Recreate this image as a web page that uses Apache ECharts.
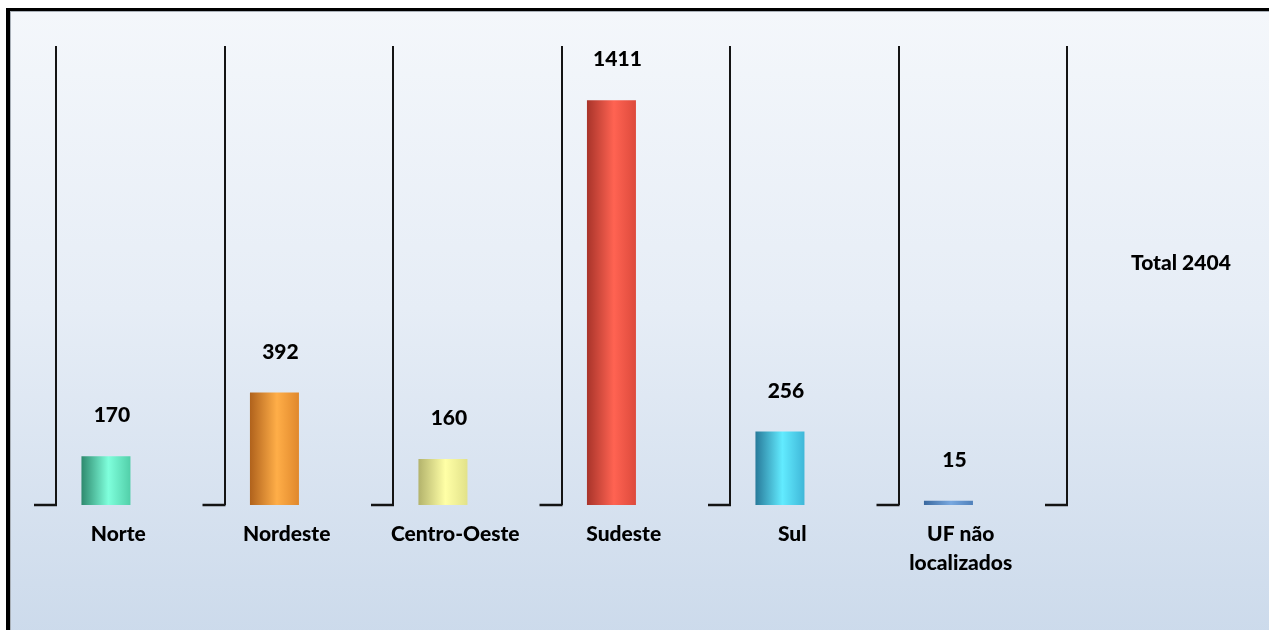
<!DOCTYPE html>
<html>
<head>
<meta charset="utf-8">
<script src="https://cdn.jsdelivr.net/npm/echarts@6/dist/echarts.min.js"></script>
<style>
  html, body { margin: 0; padding: 0; width: 1269px; height: 630px; overflow: hidden; }
  .frame {
    position: absolute;
    left: 6px; top: 8px;
    width: 1300px; height: 660px;
    border-left: 4px solid #000;
    border-top: 3px solid #000;
    box-shadow: inset 1px 1px 0 #a9b0b8;
    background: linear-gradient(to bottom, #f4f7fb 0%, #e6edf6 45%, #c9d8ea 100%);
  }
  #chart { position: absolute; left: 0; top: 0; width: 1269px; height: 630px; }
</style>
</head>
<body>
<div class="frame"></div>
<div id="chart"></div>
<script>
// regiões e totais
const categories = ['Norte', 'Nordeste', 'Centro-Oeste', 'Sudeste', 'Sul', 'UF não\nlocalizados'];
const values = [170, 392, 160, 1411, 256, 15];
const yMax = 1600;

// cores das barras: borda escura, centro claro, borda direita
const barColors = [
  ['#2e8a6e', '#7fffdc', '#52cfa9'],
  ['#b0621c', '#ffae48', '#e0882c'],
  ['#b3b36c', '#ffffa6', '#e2e28a'],
  ['#a8342a', '#ff6352', '#dd4a3c'],
  ['#287a9a', '#62ebff', '#3fb7d8'],
  ['#3a689e', '#78a8e0', '#4f80ba']
];

const total = values.reduce((a, b) => a + b, 0);
const font = 'Lato';

const chart = echarts.init(document.getElementById('chart'));

const option = {
  backgroundColor: 'transparent',
  animation: false,
  title: {
    text: 'Total ' + total,
    left: 1131,
    top: 253,
    padding: 0,
    textStyle: { fontFamily: font, fontWeight: 900, fontSize: 21, color: '#000' }
  },
  grid: { left: 56, right: 202, top: 46, bottom: 125 },
  xAxis: {
    type: 'category',
    data: categories,
    axisLine: { show: false },
    axisTick: { show: false },
    splitLine: {
      show: true,
      lineStyle: { color: '#141414', width: 2 }
    },
    axisLabel: {
      color: '#000',
      fontFamily: font,
      fontWeight: 900,
      fontSize: 21,
      lineHeight: 29,
      margin: 15,
      padding: [0, 44, 0, 0]
    }
  },
  yAxis: {
    type: 'value',
    min: 0,
    max: yMax,
    show: false,
    splitLine: { show: false }
  },
  series: [
    {
      type: 'bar',
      barWidth: 49,
      barGap: '40%',
      data: values.map((v, i) => ({
        value: v,
        itemStyle: {
          color: new echarts.graphic.LinearGradient(0, 0, 1, 0, [
            { offset: 0, color: barColors[i][0] },
            { offset: 0.55, color: barColors[i][1] },
            { offset: 1, color: barColors[i][2] }
          ])
        }
      })),
      label: {
        show: true,
        position: 'top',
        distance: 30,
        offset: [6, 0],
        color: '#000',
        fontFamily: font,
        fontWeight: 900,
        fontSize: 21
      }
    },
    {
      // série vazia só para deslocar as barras para a esquerda da categoria
      type: 'bar',
      barWidth: 49,
      silent: true,
      data: values.map(() => null)
    },
    {
      // pequenos traços horizontais na base de cada divisória
      type: 'custom',
      silent: true,
      data: categories.map((c, i) => i),
      renderItem: function (params, api) {
        const idx = api.value(0);
        const base = api.coord([idx, 0]);
        const band = api.size([1, 0])[0];
        const style = { stroke: '#141414', lineWidth: 2.5 };
        const left = base[0] - band / 2;
        const children = [{
          type: 'line',
          shape: { x1: left - 22, y1: base[1], x2: left + 1, y2: base[1] },
          style: style
        }];
        if (idx === categories.length - 1) {
          const right = base[0] + band / 2;
          children.push({
            type: 'line',
            shape: { x1: right - 22, y1: base[1], x2: right + 1, y2: base[1] },
            style: style
          });
        }
        return { type: 'group', children: children };
      }
    }
  ]
};

chart.setOption(option);
</script>
</body>
</html>
